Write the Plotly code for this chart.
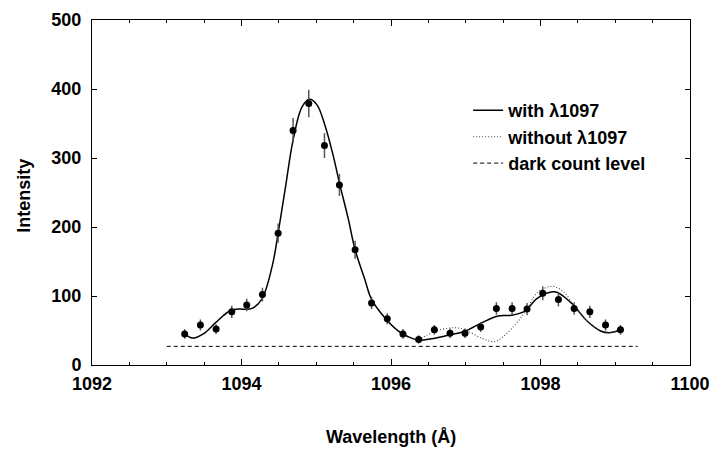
import plotly.graph_objects as go

# Observed data points
wavelength = [1093.24, 1093.45, 1093.66, 1093.87, 1094.07, 1094.28, 1094.49, 1094.69,
              1094.90, 1095.11, 1095.31, 1095.52, 1095.74, 1095.95, 1096.16, 1096.37,
              1096.58, 1096.79, 1096.99, 1097.20, 1097.41, 1097.62, 1097.82, 1098.03,
              1098.24, 1098.45, 1098.66, 1098.87, 1099.07]
intensity = [45, 58, 52, 77, 87, 102, 191, 340, 379, 318, 261, 167, 90, 67, 45, 37,
             51, 46, 46, 55, 82, 82, 81, 104, 95, 82, 77, 58, 51]
errors = [7, 8, 7, 9, 9, 10, 14, 18, 20, 18, 16, 13, 9, 8, 7, 6,
          7, 7, 7, 7, 9, 9, 9, 10, 10, 9, 9, 8, 7]

# Fit including the 1097 line
fit_x = [1093.21, 1093.34, 1093.50, 1093.65, 1093.85, 1093.96, 1094.14, 1094.27, 1094.41,
         1094.49, 1094.59, 1094.69, 1094.81, 1094.91, 1095.01, 1095.12, 1095.23, 1095.31,
         1095.43, 1095.52, 1095.65, 1095.74, 1095.92, 1096.10, 1096.23, 1096.37, 1096.54,
         1096.76, 1096.99, 1097.21, 1097.43, 1097.61, 1097.79, 1097.96, 1098.19, 1098.41,
         1098.63, 1098.81, 1098.94, 1099.07]
fit_y = [49, 39, 46, 61, 79, 81, 82, 95, 143, 191, 259, 326, 374, 385, 377, 346, 302, 264,
         211, 167, 124, 95, 68, 49, 41, 36, 38, 43, 49, 61, 71, 72, 78, 97, 106, 90,
         63, 49, 47, 51]

# Fit without the 1097 line
nofit_x = [1096.37, 1096.59, 1096.85, 1096.99, 1097.21, 1097.39, 1097.56, 1097.79, 1097.96,
           1098.16, 1098.32, 1098.45, 1098.63, 1098.81, 1098.94, 1099.07]
nofit_y = [36, 49, 54, 51, 39, 34, 47, 76, 105, 114, 105, 85, 63, 50, 47, 51]

# Dark count level
dark_x = [1093.0, 1099.3]
dark_y = [27, 27]

x_ticks = [1092, 1094, 1096, 1098, 1100]
y_ticks = [0, 100, 200, 300, 400, 500]

FONT = "Liberation Sans, Arial, Helvetica, sans-serif"

fig = go.Figure()

fig.add_trace(go.Scatter(
    x=fit_x, y=fit_y, mode="lines", name="with \u03bb1097",
    line=dict(color="black", width=1.5, shape="spline", smoothing=1.0),
))
fig.add_trace(go.Scatter(
    x=nofit_x, y=nofit_y, mode="lines", name="without \u03bb1097",
    line=dict(color="#444444", width=1.1, dash="1px,2px", shape="spline", smoothing=1.0),
))
fig.add_trace(go.Scatter(
    x=dark_x, y=dark_y, mode="lines", name="dark count level",
    line=dict(color="black", width=1, dash="4px,3px"),
))
fig.add_trace(go.Scatter(
    x=wavelength, y=intensity, mode="markers", showlegend=False,
    marker=dict(color="black", size=7),
    error_y=dict(type="data", array=errors, visible=True, color="#555555",
                 thickness=1.5, width=0),
))

fig.update_layout(
    width=711, height=451,
    margin=dict(l=92, r=21, t=20, b=86, autoexpand=False),
    paper_bgcolor="white", plot_bgcolor="white",
    font=dict(family=FONT, size=18, color="black", weight="bold"),
    showlegend=True,
    legend=dict(
        x=0.629, y=0.791, xanchor="left", yanchor="top",
        bgcolor="rgba(0,0,0,0)", borderwidth=0,
        font=dict(family=FONT, size=18, color="black", weight="bold"),
        tracegroupgap=0, itemwidth=30,
    ),
    xaxis=dict(
        range=[1092, 1100], tickvals=x_ticks, ticktext=[str(v) for v in x_ticks],
        ticks="inside", ticklen=6, tickwidth=1, tickcolor="black",
        minor=dict(dtick=0.5, ticks="inside", ticklen=3, tickcolor="black", tickwidth=1),
        showline=True, linecolor="black", linewidth=1, mirror="ticks",
        showgrid=False, zeroline=False,
        tickfont=dict(family=FONT, size=18, color="black", weight="bold"),
        ticklabelstandoff=2, ticklabeloverflow="allow",
    ),
    yaxis=dict(
        range=[0, 500], tickvals=y_ticks, ticktext=[str(v) for v in y_ticks],
        ticks="inside", ticklen=5, tickwidth=1, tickcolor="black",
        showline=True, linecolor="black", linewidth=1, mirror="ticks",
        showgrid=False, zeroline=False,
        tickfont=dict(family=FONT, size=18, color="black", weight="bold"),
        ticklabelstandoff=6, ticklabeloverflow="allow",
    ),
    annotations=[
        dict(text="Wavelength (\u00c5)", xref="paper", yref="paper",
             x=0.5, y=-0.208, xanchor="center", yanchor="middle",
             showarrow=False, font=dict(family=FONT, size=18, color="black", weight="bold")),
        dict(text="Intensity", xref="paper", yref="paper", textangle=-90,
             x=-0.114, y=0.49, xanchor="center", yanchor="middle",
             showarrow=False, font=dict(family=FONT, size=18, color="black", weight="bold")),
    ],
)

fig.write_html("out.html", config={"displayModeBar": False},
               post_script="document.body.style.margin='0px';")
